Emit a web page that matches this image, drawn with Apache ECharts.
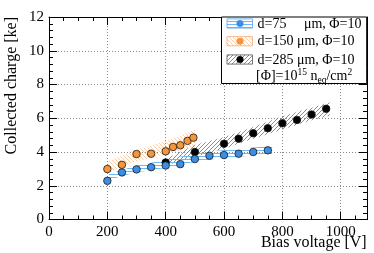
<!DOCTYPE html>
<html><head><meta charset="utf-8">
<script src="https://cdn.jsdelivr.net/npm/echarts@6/dist/echarts.min.js"></script>
<style>html,body{margin:0;padding:0;background:#fff}#c{width:374px;height:253px}</style>
</head><body><div id="c"></div>
<script>
// ---- data ----
const blueX = [200, 250, 300, 350, 400, 450, 500, 550, 600, 650, 700, 750];
const blueY = [2.29, 2.79, 2.97, 3.10, 3.20, 3.28, 3.58, 3.78, 3.82, 3.90, 4.00, 4.10];
const orangeX = [200, 250, 300, 350, 400, 425, 450, 475, 495];
const orangeY = [2.99, 3.24, 3.88, 3.90, 4.04, 4.30, 4.40, 4.66, 4.85];
const blackX = [400, 500, 600, 650, 700, 750, 800, 850, 900, 950];
const blackY = [3.38, 4.00, 4.49, 4.79, 5.11, 5.41, 5.70, 5.90, 6.22, 6.56];
// systematic bands
const blueBandX = [205, 300, 400, 500, 600, 700, 765];
const blueBandLo = [2.35, 2.80, 3.05, 3.42, 3.66, 3.80, 3.88];
const blueBandHi = [2.70, 3.20, 3.52, 3.92, 4.12, 4.26, 4.36];
const orangeBandX = [200, 300, 400, 500];
const orangeBandLo = [2.75, 3.44, 3.86, 4.33];
const orangeBandHi = [3.44, 4.14, 4.64, 5.32];
const blackBandX = [400, 500, 600, 700, 800, 900, 962];
const blackBandLo = [3.20, 3.72, 4.20, 4.78, 5.33, 5.88, 6.15];
const blackBandHi = [3.60, 4.42, 4.88, 5.48, 6.12, 6.62, 6.95];
// axis ticks
const xTicks = [0, 200, 400, 600, 800, 1000];
const yTicks = [0, 2, 4, 6, 8, 10, 12];
const legendLabels = ['d=75     \u03bcm, \u03a6=10', 'd=150 \u03bcm, \u03a6=10', 'd=285 \u03bcm, \u03a6=10'];

const BLUE = '#3a8ee6', ORANGE = '#f5963a', BLACK = '#000000';
const BLUE_H = '#6cb8f8', ORANGE_H = '#f9c096', BLACK_H = '#707070';
const FONT = 'Liberation Serif';

function hatch(kind, color) {
  const c = document.createElement('canvas');
  const ctx = c.getContext('2d');
  if (kind === 'h') {
    c.width = 6; c.height = 3;
    ctx.fillStyle = color; ctx.fillRect(0, 0, 6, 1);
  } else {
    const s = 4; c.width = s; c.height = s;
    ctx.strokeStyle = color; ctx.lineWidth = 0.8;
    ctx.beginPath();
    if (kind === '/') {
      ctx.moveTo(0, s); ctx.lineTo(s, 0);
      ctx.moveTo(-1, 1); ctx.lineTo(1, -1);
      ctx.moveTo(s - 1, s + 1); ctx.lineTo(s + 1, s - 1);
    } else {
      ctx.moveTo(0, 0); ctx.lineTo(s, s);
      ctx.moveTo(-1, s - 1); ctx.lineTo(1, s + 1);
      ctx.moveTo(s - 1, -1); ctx.lineTo(s + 1, 1);
    }
    ctx.stroke();
  }
  return c;
}
const patBlue = {image: hatch('h', BLUE_H), repeat: 'repeat'};
const patOrange = {image: hatch('\\', ORANGE_H), repeat: 'repeat'};
const patBlack = {image: hatch('/', BLACK_H), repeat: 'repeat'};

function bandSeries(bx, lo, hi, pat) {
  return {
    type: 'custom', coordinateSystem: 'cartesian2d', clip: true, silent: true, z: 1,
    data: bx.map((x, i) => [x, lo[i], hi[i]]),
    encode: {x: 0, y: [1, 2]},
    renderItem: function (params, api) {
      if (params.dataIndex !== 0) return null;
      const pts = [];
      for (let i = 0; i < bx.length; i++) pts.push(api.coord([bx[i], hi[i]]));
      for (let i = bx.length - 1; i >= 0; i--) pts.push(api.coord([bx[i], lo[i]]));
      return {type: 'polygon', shape: {points: pts}, style: {fill: pat, stroke: null}};
    }
  };
}
function pointSeries(xs, ys, color) {
  return {
    type: 'scatter', z: 3, symbol: 'circle', symbolSize: 7.5,
    data: xs.map((x, i) => [x, ys[i]]),
    itemStyle: {color: color, borderColor: '#1a1a1a', borderWidth: 0.8, opacity: 1}
  };
}

const axisCommon = {
  axisLine: {show: true, onZero: false, lineStyle: {color: '#000', width: 1}},
  axisTick: {show: true, inside: true, length: 8, lineStyle: {color: '#000', width: 1}},
  minorTick: {show: true, length: 4, lineStyle: {color: '#000', width: 1}},
};

const chart = echarts.init(document.getElementById('c'), null, {renderer: 'canvas', devicePixelRatio: 1});
const L = 49, R = 7, T = 17, B = 33.5;
const ry = [23.5, 41.2, 59.5];
const legendGraphics = [
  {type: 'rect', shape: {x: 221.5, y: 17, width: 145.2, height: 66.5}, style: {fill: '#fff', stroke: '#000', lineWidth: 1}, z: 10}
];
const pats = [patBlue, patOrange, patBlack];
const cols = [BLUE, ORANGE, BLACK];
const iconBorders = ['#5aa8f0', '#f0a878', '#555555'];
for (let i = 0; i < 3; i++) {
  legendGraphics.push({type: 'rect', shape: {x: 227, y: ry[i] - 4.6, width: 25.5, height: 9.2}, style: {fill: pats[i], stroke: iconBorders[i], lineWidth: 0.8}, z: 11});
  legendGraphics.push({type: 'circle', shape: {cx: 240, cy: ry[i], r: 3.3}, style: {fill: cols[i], stroke: cols[i], lineWidth: 0.5}, z: 12});
  legendGraphics.push({type: 'text', x: 257.5, y: ry[i] + 0.5, style: {text: legendLabels[i], font: '14px ' + FONT, fill: '#000', textVerticalAlign: 'middle'}, z: 12});
}
legendGraphics.push({type: 'text', x: 256, y: 76.5, z: 12, style: {
  text: '{n|[\u03a6]=10}{sup|15}{n| n}{sub|eq}{n|/cm}{sup|2}',
  textVerticalAlign: 'middle', fill: '#000',
  rich: {
    n: {fontFamily: FONT, fontSize: 14, lineHeight: 18, verticalAlign: 'middle'},
    sup: {fontFamily: FONT, fontSize: 9.5, lineHeight: 18, verticalAlign: 'top'},
    sub: {fontFamily: FONT, fontSize: 9.5, lineHeight: 18, verticalAlign: 'bottom'}
  }
}});

chart.setOption({
  animation: false,
  backgroundColor: '#fff',
  grid: {left: L, right: R, top: T, bottom: B, containLabel: false},
  xAxis: [
    Object.assign({}, axisCommon, {
      type: 'value', min: 0, max: 1090, interval: 200, position: 'bottom',
      minorTick: Object.assign({}, axisCommon.minorTick, {splitNumber: 4}),
      axisLabel: {show: true, margin: 5, fontFamily: FONT, fontSize: 15, color: '#000',
        formatter: v => (xTicks.indexOf(v) >= 0 ? String(v) : '')},
      splitLine: {show: true, lineStyle: {type: [1, 2], color: '#888', width: 1}}
    }),
    Object.assign({}, axisCommon, {
      type: 'value', min: 0, max: 1090, interval: 200, position: 'top',
      minorTick: Object.assign({}, axisCommon.minorTick, {splitNumber: 4}),
      axisLabel: {show: false}, splitLine: {show: false}
    })
  ],
  yAxis: [
    Object.assign({}, axisCommon, {
      type: 'value', min: 0, max: 12, interval: 2, position: 'left',
      minorTick: Object.assign({}, axisCommon.minorTick, {splitNumber: 5}),
      axisLabel: {show: true, margin: 5, fontFamily: FONT, fontSize: 15, color: '#000',
        formatter: v => (yTicks.indexOf(v) >= 0 ? String(v) : '')},
      splitLine: {show: true, lineStyle: {type: [1, 2], color: '#888', width: 1}}
    }),
    Object.assign({}, axisCommon, {
      type: 'value', min: 0, max: 12, interval: 2, position: 'right',
      minorTick: Object.assign({}, axisCommon.minorTick, {splitNumber: 5}),
      axisLabel: {show: false}, splitLine: {show: false}
    })
  ],
  series: [
    bandSeries(orangeBandX, orangeBandLo, orangeBandHi, patOrange),
    bandSeries(blackBandX, blackBandLo, blackBandHi, patBlack),
    bandSeries(blueBandX, blueBandLo, blueBandHi, patBlue),
    pointSeries(orangeX, orangeY, ORANGE),
    pointSeries(blackX, blackY, BLACK),
    pointSeries(blueX, blueY, BLUE)
  ],
  graphic: [
    {type: 'text', x: 366.7, y: 242.5, style: {text: 'Bias voltage [V]', font: '16px ' + FONT, fill: '#000', textAlign: 'right', textVerticalAlign: 'middle'}},
    {type: 'text', x: 12, y: 17, rotation: Math.PI / 2, style: {text: 'Collected charge [ke]', font: '16px ' + FONT, fill: '#000', textAlign: 'right', textVerticalAlign: 'middle'}}
  ].concat(legendGraphics)
});
</script></body></html>
